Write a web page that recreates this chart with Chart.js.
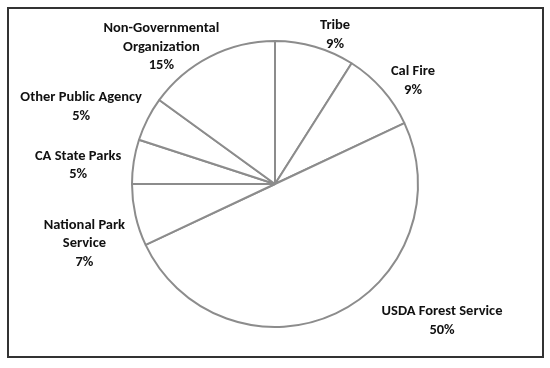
<!DOCTYPE html>
<html>
<head>
<meta charset="utf-8">
<script src="https://cdn.jsdelivr.net/npm/chart.js@4.4.1/dist/chart.umd.min.js"></script>
<style>
  html, body { margin: 0; padding: 0; background: #fff; }
  #wrap { width: 550px; height: 368px; }
</style>
</head>
<body>
<div id="wrap"><canvas id="pie"></canvas></div>
<script>
const categories = ["Tribe", "Cal Fire", "USDA Forest Service", "National Park Service",
  "CA State Parks", "Other Public Agency", "Non-Governmental Organization"];
const labelLines = [["Tribe"], ["Cal Fire"], ["USDA Forest Service"], ["National Park", "Service"],
  ["CA State Parks"], ["Other Public Agency"], ["Non-Governmental", "Organization"]];
const shares = [9, 9, 50, 7, 5, 5, 15];

// hand placed like the original, relative to an ellipse around the pie
const labelNudge = [[5, -5], [-10, -4], [83, 1], [2, 27], [-2, 5], [-18, -9], [-24, -3]];

const frame = {
  id: "frame",
  beforeDraw(chart) {
    const c = chart.ctx;
    c.save();
    c.fillStyle = "#fff";
    c.fillRect(0, 0, chart.width, chart.height);
    c.strokeStyle = "#333";
    c.lineWidth = 2;
    c.strokeRect(8, 8, 535, 349);
    c.restore();
  }
};

const sliceLabels = {
  id: "sliceLabels",
  afterDraw(chart) {
    const c = chart.ctx;
    const arcs = chart.getDatasetMeta(0).data;
    c.save();
    c.fillStyle = "#111";
    c.font = "bold 14.5px Carlito, Lato, sans-serif";
    c.textAlign = "center";
    c.textBaseline = "middle";
    arcs.forEach((arc, i) => {
      const mid = (arc.startAngle + arc.endAngle) / 2;
      const cx = arc.x + arc.outerRadius * 1.38 * Math.cos(mid) + labelNudge[i][0];
      const cy = arc.y + arc.outerRadius * 1.05 * Math.sin(mid) + labelNudge[i][1];
      const lines = labelLines[i].concat([shares[i] + "%"]);
      const lh = 18.5;
      const top = cy - (lines.length - 1) * lh / 2;
      lines.forEach((t, k) => c.fillText(t, cx, top + k * lh));
    });
    c.restore();
  }
};

new Chart(document.getElementById("pie"), {
  type: "pie",
  data: {
    labels: categories,
    datasets: [{
      data: shares,
      backgroundColor: "#fff",
      borderColor: "#8c8c8c",
      borderWidth: 2
    }]
  },
  options: {
    responsive: true,
    maintainAspectRatio: false,
    animation: false,
    layout: { padding: { top: 40, bottom: 40 } },
    plugins: { legend: { display: false }, tooltip: { enabled: false } }
  },
  plugins: [frame, sliceLabels]
});
</script>
</body>
</html>
